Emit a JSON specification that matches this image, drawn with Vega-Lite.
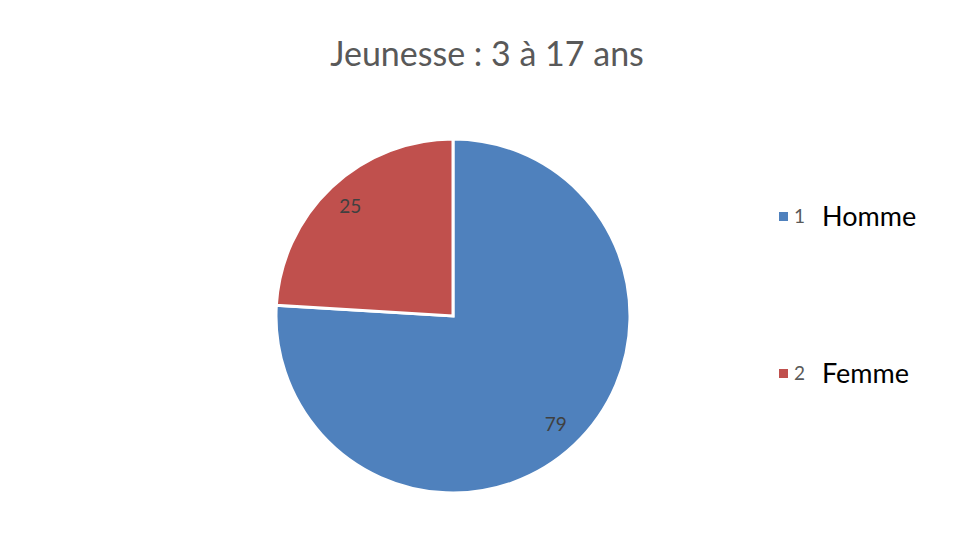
{
 "$schema": "https://vega.github.io/schema/vega-lite/v6.json",
 "width": 906, "height": 464,
 "autosize": {"type": "none"},
 "padding": {"left": 0, "top": 84, "right": 50, "bottom": 0},
 "background": "white",
 "config": {"view": {"stroke": null}},
 "title": {"text": "Jeunesse : 3 à 17 ans", "font": "Lato", "fontSize": 34, "fontWeight": "normal", "color": "#595959", "anchor": "middle", "dx": 34, "dy": 9, "offset": 20},
 "data": {"values": [{"cat": "1", "name": "Homme", "value": 79}, {"cat": "2", "name": "Femme", "value": 25}]},
 "encoding": {"theta": {"field": "value", "type": "quantitative", "stack": true}, "order": {"field": "cat"}},
 "layer": [
  {"mark": {"type": "arc", "radius": 177, "stroke": "white", "strokeWidth": 3},
   "encoding": {
     "color": {"field": "cat", "type": "nominal", "scale": {"domain": ["1", "2"], "range": ["#4F81BD", "#C0504D"]},
        "legend": {"orient": "none", "legendX": 774, "legendY": 123, "title": null, "symbolType": "square", "symbolSize": 81, "labelFont": "Lato", "labelFontSize": 19, "labelColor": "#595959", "rowPadding": 137, "padding": 0, "symbolStrokeWidth": 0, "labelOffset": 1}}
   }},
  {"mark": {"type": "text", "radius": 150, "font": "Lato", "fontSize": 19, "color": "#404040"},
   "encoding": {"text": {"field": "value", "type": "quantitative"},
     "opacity": {"field": "name", "type": "ordinal", "scale": {"domain": ["Homme", "Femme"], "range": [1, 1]},
        "legend": {"orient": "none", "legendX": 792, "legendY": 120, "title": null, "symbolSize": 0, "symbolStrokeWidth": 0, "symbolStrokeColor": "transparent", "symbolFillColor": "transparent", "labelFont": "Lato", "labelFontSize": 27, "labelColor": "#000000", "rowPadding": 129, "padding": 0, "labelOffset": 3}}}}
 ]
}
